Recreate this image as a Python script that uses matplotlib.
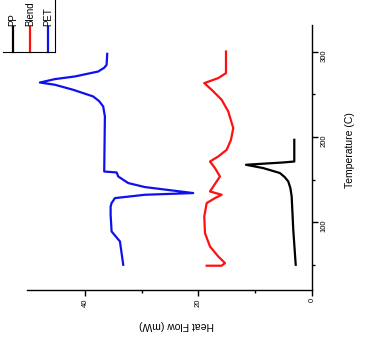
import numpy as np
import matplotlib
matplotlib.use('Agg')
import matplotlib.pyplot as plt
from matplotlib.lines import Line2D

plt.rcParams['font.family'] = ['Liberation Sans', 'DejaVu Sans']

pp_temp = [50.5, 91.5, 130.4, 140, 148, 153, 157.8, 163.6, 167.5, 170.2, 171.3, 196.7]
pp_flow = [2.87, 3.30, 3.58, 3.8, 4.18, 4.8, 5.64, 8.58, 11.63, 5.06, 3.12, 3.12]

blend_temp = [49.4, 49.4, 52.5, 60.2, 71.9, 87.6, 107, 122.7, 128.5, 132.4, 136.3,
              142.1, 153.8, 163.6, 171.3, 177.2, 185, 196.7, 210.4, 229.8, 243.5,
              255.2, 263, 268.9, 274.7, 290.3, 300]
blend_flow = [18.55, 15.91, 15.33, 16.51, 17.97, 18.85, 18.98, 18.55, 17.09, 15.91, 17.97,
              17.39, 16.21, 17.09, 17.97, 16.51, 15.03, 14.27, 13.87, 14.75, 15.91,
              17.67, 18.98, 16.51, 15.15, 15.15, 15.15]

pet_temp = [50.5, 77.8, 89.5, 109, 118.7, 122.7, 128.5, 132.4, 134.4, 141.4, 146.1,
            153.8, 158.5, 159.6, 196.7, 224, 235.7, 242, 247.4, 255.2, 261.1, 263.7, 267.7,
            270.8, 276.6, 281, 284.4, 297.3]
pet_flow = [33.25, 33.83, 35.30, 35.47, 35.47, 35.30, 34.71, 29.43, 20.92, 29.43, 32.37,
            34.13, 34.41, 36.6, 36.53, 36.48, 36.78, 37.5, 38.54, 42.06, 45.29, 47.93, 45.29,
            41.76, 37.66, 36.6, 36.18, 36.07]

names = ['PP', 'Blend', 'PET']
colors = ['black', '#ff1010', '#1010ee']

fig = plt.figure(figsize=(3.67, 3.39), dpi=100)
ax = fig.add_axes([27 / 367, 1 - 290 / 339, (312 - 27) / 367, (290 - 25) / 339])

ax.plot(pp_flow, pp_temp, color=colors[0], lw=1.6)
ax.plot(blend_flow, blend_temp, color=colors[1], lw=1.6)
ax.plot(pet_flow, pet_temp, color=colors[2], lw=1.6)

ax.set_xlim(50.2, 0)
ax.set_ylim(21, 331)

ax.spines['top'].set_visible(False)
ax.spines['left'].set_visible(False)
ax.spines['bottom'].set_linewidth(1.0)
ax.spines['right'].set_linewidth(1.0)
ax.yaxis.tick_right()

ax.set_xticks([0, 20, 40])
ax.set_xticks([10, 30], minor=True)
ax.set_yticks([100, 200, 300])
ax.set_yticks([50, 150, 250], minor=True)
ax.tick_params(axis='both', which='major', direction='out', length=4, width=1,
               labelsize=5.5, labelrotation=90, pad=2)
ax.tick_params(axis='both', which='minor', direction='out', length=2.5, width=1)
ax.tick_params(axis='y', which='both', left=False, right=True)

fig.text(177 / 367, 1 - 325 / 339, 'Heat Flow (mW)', rotation=180,
         ha='center', va='center', fontsize=7.5)
fig.text(350 / 367, 1 - 150 / 339, 'Temperature (C)', rotation=90,
         ha='center', va='center', fontsize=7.5)

# rotated legend in the top-left corner
leg_x = [13, 30, 48]
for px, name, c in zip(leg_x, names, colors):
    fig.add_artist(Line2D([px / 367, px / 367], [1 - 27 / 339, 1 - 52 / 339],
                          color=c, lw=1.6, transform=fig.transFigure))
    fig.text(px / 367, 1 - 26 / 339, name, rotation=90, ha='center', va='bottom',
             fontsize=7)
fig.add_artist(Line2D([55 / 367, 55 / 367], [1.0, 1 - 52 / 339], color='black',
                      lw=0.8, transform=fig.transFigure))
fig.add_artist(Line2D([3 / 367, 55 / 367], [1 - 52 / 339, 1 - 52 / 339], color='black',
                      lw=0.8, transform=fig.transFigure))

fig.savefig('out.png', dpi=100)
